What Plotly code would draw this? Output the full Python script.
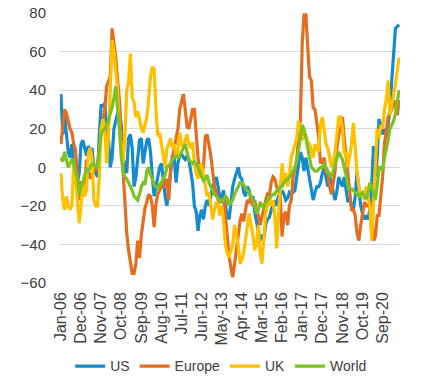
import plotly.graph_objects as go
import pandas as pd

months = pd.date_range("2006-01-01", periods=186, freq="MS").strftime("%b-%y").tolist()

tick_labels = ["Jan-06", "Dec-06", "Nov-07", "Oct-08", "Sep-09", "Aug-10", "Jul-11",
               "Jun-12", "May-13", "Apr-14", "Mar-15", "Feb-16", "Jan-17", "Dec-17",
               "Nov-18", "Oct-19", "Sep-20"]

us = [38, 17, 27, 15, 8, 5, 12, 0, -5, -8, -3, 12, 14, 10, 6, 11, 8, 10, 0, -3,
      -5, 17, 32, 32, 33, 20, 15, 0, 5, 20, 25, 28, 30, 22, 5, 0, -3, 15, 17, 10,
      -10, -5, 5, 14, 15, 2, 8, 14, 15, 8, -5, -15, -10, -5, 0, 2, -8, -15, -20, -10,
      0, 6, 5, -8, 2, 6, 7, 5, 4, 6, 4, -2, -8, -20, -23, -33, -25, -22, -27, -20,
      -17, -20, -15, -10, -8, -5, -10, -17, -15, -12, -20, -25, -27, -18, -10, -6, -3, 0, -5, -6,
      -13, -15, -10, -12, -17, -15, -23, -28, -33, -38, -35, -37, -30, -27, -26, -22, -19, -18, -20, -15,
      -14, -12, -14, -17, -16, -13, -14, -13, -12, -5, 3, 8, 5, -2, 5, 0, -5, -10, -17, -13,
      -10, -10, -8, -3, 0, -5, -10, -5, -8, -13, -17, -12, -5, -8, -10, -5, -12, -18, -16, -20,
      -22, -15, -2, -10, -20, -24, -27, -25, -27, -22, -10, 11, -5, 5, 25, 22, 17, 20, 15, 22,
      30, 45, 60, 72, 73, 74]

europe = [12, 20, 30, 28, 24, 20, 18, 12, 9, -7, -17, -8, -8, -10, 4, -3, -6, -3, 0, -2,
          0, 10, 19, 24, 30, 42, 45, 47, 72, 65, 57, 45, 35, 15, 0, -20, -34, -43, -50, -55,
          -55, -50, -38, -47, -35, -28, -21, -18, -14, -15, -20, -31, -19, -14, -12, -10, -10, -8, -6, -17,
          -1, 5, 10, 14, 20, 30, 35, 38, 30, 21, 20, 25, 30, 30, 14, 5, -1, -3, 0, 16,
          17, 12, 6, -2, -10, -13, -17, -18, -17, -16, -25, -38, -46, -52, -57, -50, -43, -34, -28, -24,
          -28, -22, -17, -18, -15, -20, -17, -22, -25, -30, -25, -20, -17, -14, -15, -8, -5, -6, -10, -12,
          -15, -36, -25, -23, -30, -20, -17, -5, 0, 4, 15, 24, 64, 79, 79, 60, 47, 45, 31, 30,
          24, 16, 2, 3, 5, -3, -2, -10, -14, -8, -2, 10, 17, 20, 26, 15, 5, -5, -15, -22,
          -22, -25, -34, -38, -30, -24, -18, -20, -20, -18, -25, -38, -36, -25, -25, -15, -5, 12, 20, 26,
          28, 30, 35, 32, 27, 35]

uk = [-3, -17, -22, -15, -20, -22, -20, 2, -5, -20, -29, -20, -7, -15, -12, 7, 10, 5, -17, -20,
      -20, -5, 20, 25, 20, 2, 15, 40, 66, 60, 50, 40, 20, 10, 2, 15, 40, 44, 59, 36,
      34, 26, 29, 25, 20, 18, 22, 26, 35, 47, 52, 51, 30, 16, 18, 12, 5, 0, 10, 12,
      15, 10, 12, 5, 8, 18, 12, 10, 14, 17, 12, 10, 13, 2, -3, -6, 0, 2, -4, -10,
      -15, -13, -20, -27, -22, -18, -20, -25, -20, -28, -40, -45, -47, -43, -40, -30, -35, -40, -50, -48,
      -44, -38, -30, -24, -30, -35, -43, -40, -30, -45, -50, -38, -24, -20, -15, -20, -17, -25, -42, -25,
      -12, 2, -8, -3, -10, -5, 5, 8, 11, 15, 24, 20, 14, 18, 17, 13, 12, 8, 5, 12,
      10, 8, 22, 26, 20, 12, 10, 5, 0, 3, 8, 17, 26, 26, 20, 7, 8, 0, 5, 12,
      23, 10, -3, -10, -15, -13, -17, -10, -15, -20, -38, -20, 0, 20, 15, 22, 20, 30, 35, 45,
      27, 32, 38, 43, 50, 57]

world = [5, 3, 8, 4, 0, 2, 4, 3, -3, -5, -14, -10, -8, -4, -1, -2, 0, 2, 2, 0,
         0, 10, 17, 19, 20, 22, 24, 28, 31, 36, 42, 30, 20, 5, -2, -5, -6, -8, -10, -12,
         -15, -16, -17, -14, -10, -8, -9, -2, 0, -4, -6, -9, -10, -11, -9, -8, -6, -4, 0, 1,
         2, 4, 5, 6, 5, 6, 8, 10, 12, 8, 4, 3, 2, 3, 2, 0, -3, -5, -7, -6,
         -4, -8, -10, -12, -14, -15, -16, -17, -18, -17, -15, -16, -20, -18, -17, -14, -12, -10, -8, -8,
         -9, -11, -12, -13, -15, -17, -20, -24, -22, -18, -20, -21, -19, -17, -16, -15, -14, -14, -12, -12,
         -10, -10, -8, -7, -6, -5, -4, -2, 0, 3, 8, 15, 22, 20, 15, 10, 4, 0, -1, -2,
         -2, -1, 0, 0, 2, 0, -2, -4, -5, -2, 2, 5, 8, 6, 4, 0, -4, -10, -11, -11,
         -12, -13, -14, -15, -14, -13, -15, -16, -13, -8, -10, -13, -17, -10, 0, 0, -2, 5, 9, 14,
         20, 22, 24, 28, 35, 40]

series = [("US", us, "#138bce"), ("Europe", europe, "#e56d1f"),
          ("UK", uk, "#ffc000"), ("World", world, "#7dc224")]

fig = go.Figure()
for name, vals, col in series:
    fig.add_trace(go.Scatter(x=list(range(len(months))), y=vals, name=name, mode="lines",
                             line=dict(color=col, width=3.2), text=months,
                             hovertemplate="%{text}: %{y}<extra>" + name + "</extra>"))

tick_idx = [months.index(t) for t in tick_labels]

fig.update_layout(
    width=422, height=385,
    margin=dict(l=60, r=22, t=13, b=102, autoexpand=False),
    paper_bgcolor="white", plot_bgcolor="white",
    font=dict(family="Liberation Sans, Arial, sans-serif", size=14, color="#404040"),
    showlegend=True,
    legend=dict(orientation="h", x=0.474, xanchor="center", y=-0.309, yanchor="middle",
                font=dict(size=14), itemwidth=30, tracegroupgap=0),
    xaxis=dict(range=[-0.5, len(months) - 0.5], tickmode="array", tickvals=tick_idx,
               ticktext=tick_labels, tickangle=-90, showgrid=False, zeroline=False,
               showline=False, ticks="", tickfont=dict(size=16), automargin=False,
               ticklabelstandoff=5),
    yaxis=dict(range=[-60, 80], dtick=20, tick0=0, showgrid=True, gridcolor="#d9d9d9",
               gridwidth=1, zeroline=False, showline=False, ticks="outside",
               ticklen=10, tickcolor="rgba(0,0,0,0)", tickfont=dict(size=15),
               automargin=False),
)

# remove the page's default body margin so the figure sits at the window's corner
fig.write_html("out.html", config={"displayModeBar": False},
               post_script="document.body.style.margin='0';")
